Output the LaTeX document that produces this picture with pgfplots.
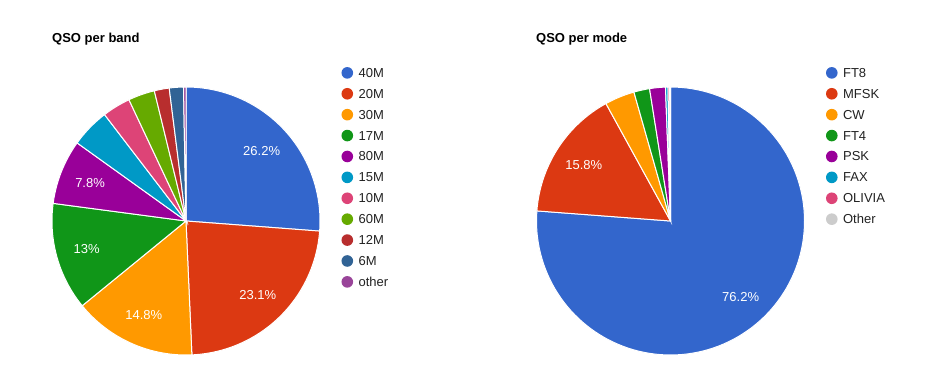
\documentclass[border=0pt]{standalone}
\usepackage{pgfplots}
\pgfplotsset{compat=1.18}
\usepackage{fontspec}
\setmainfont{Liberation Sans}

\definecolor{g1}{HTML}{3366CC}
\definecolor{g2}{HTML}{DC3912}
\definecolor{g3}{HTML}{FF9900}
\definecolor{g4}{HTML}{109618}
\definecolor{g5}{HTML}{990099}
\definecolor{g6}{HTML}{0099C6}
\definecolor{g7}{HTML}{DD4477}
\definecolor{g8}{HTML}{66AA00}
\definecolor{g9}{HTML}{B82E2E}
\definecolor{g10}{HTML}{316395}
\definecolor{g11}{HTML}{994499}
\definecolor{gother}{HTML}{CCCCCC}
\definecolor{txt}{HTML}{222222}

\newcommand\legfont{\fontsize{13.05}{15}\selectfont}
\newcommand\labfont{\fontsize{13.05}{15}\selectfont}
\newcommand\titfont{\fontsize{13.05}{15}\selectfont\bfseries}

\newcommand\resetpie{\gdef\cumul{0}}
% #1 colour, #2 value (percent), #3 legend text, #4 slice label
\newcommand\slice[4]{%
  \pgfmathsetmacro\pa{90-3.6*\cumul}%
  \pgfmathsetmacro\pb{90-3.6*(\cumul+#2)}%
  \pgfmathsetmacro\pmid{(\pa+\pb)/2}%
  \pgfmathsetmacro\lx{0.77*cos(\pmid)}%
  \pgfmathsetmacro\ly{0.77*sin(\pmid)}%
  \edef\doslice{%
    \noexpand\addplot[fill=#1, draw=white, line width=1bp, domain=\pb:\pa, samples=120]
      ({cos(x)},{sin(x)}) -- (axis cs:0,0) -- cycle;
    \noexpand\addlegendentry{#3}
    \noexpand\node[text=white, font=\noexpand\labfont, inner sep=0pt, text height=9.3bp, text depth=0pt, anchor=center] at (axis cs:\lx,\ly) {#4};%
  }%
  \doslice
  \pgfmathsetmacro\newcum{\cumul+#2}\global\let\cumul\newcum
}

\pgfplotsset{
  pieaxis/.style={
    hide axis, scale only axis, clip=false,
    width=268bp, height=268bp,
    xmin=-1, xmax=1, ymin=-1, ymax=1,
    anchor=center,
    legend cell align=left,
    legend image code/.code={\fill[##1, draw=none] (5.8bp,0bp) circle (5.8bp);},
    legend style={at={(axis description cs:1.0802,1.077)}, anchor=north west,
      draw=none, fill=none, inner sep=0pt, outer sep=0pt,
      row sep=7.9bp, column sep=5.5bp, font=\legfont, text=txt,
      nodes={inner sep=0pt, text height=11bp, text depth=2bp}},
  }
}

\begin{document}
\begin{tikzpicture}
\fill[white] (0,0) rectangle (937bp,385bp);
\useasboundingbox (0,0) rectangle (937bp,385bp);

\node[anchor=base west, inner sep=0pt, font=\titfont, text=black] at (52bp,342.3bp) {QSO per band};
\node[anchor=base west, inner sep=0pt, font=\titfont, text=black] at (536bp,342.3bp) {QSO per mode};

\begin{axis}[pieaxis, at={(186bp,164bp)}]
\resetpie
\slice{g1}{26.2}{40M}{26.2\%}
\slice{g2}{23.1}{20M}{23.1\%}
\slice{g3}{14.8}{30M}{14.8\%}
\slice{g4}{13.0}{17M}{13\%}
\slice{g5}{7.8}{80M}{7.8\%}
\slice{g6}{4.7}{15M}{}
\slice{g7}{3.4}{10M}{}
\slice{g8}{3.2}{60M}{}
\slice{g9}{1.8}{12M}{}
\slice{g10}{1.7}{6M}{}
\slice{g11}{0.3}{other}{}
\end{axis}

\begin{axis}[pieaxis, at={(670.5bp,164bp)}]
\resetpie
\slice{g1}{76.2}{FT8}{76.2\%}
\slice{g2}{15.8}{MFSK}{15.8\%}
\slice{g3}{3.6}{CW}{}
\slice{g4}{1.9}{FT4}{}
\slice{g5}{1.9}{PSK}{}
\slice{g6}{0.3}{FAX}{}
\slice{g7}{0.2}{OLIVIA}{}
\slice{gother}{0.1}{Other}{}
\end{axis}
\end{tikzpicture}
\end{document}
